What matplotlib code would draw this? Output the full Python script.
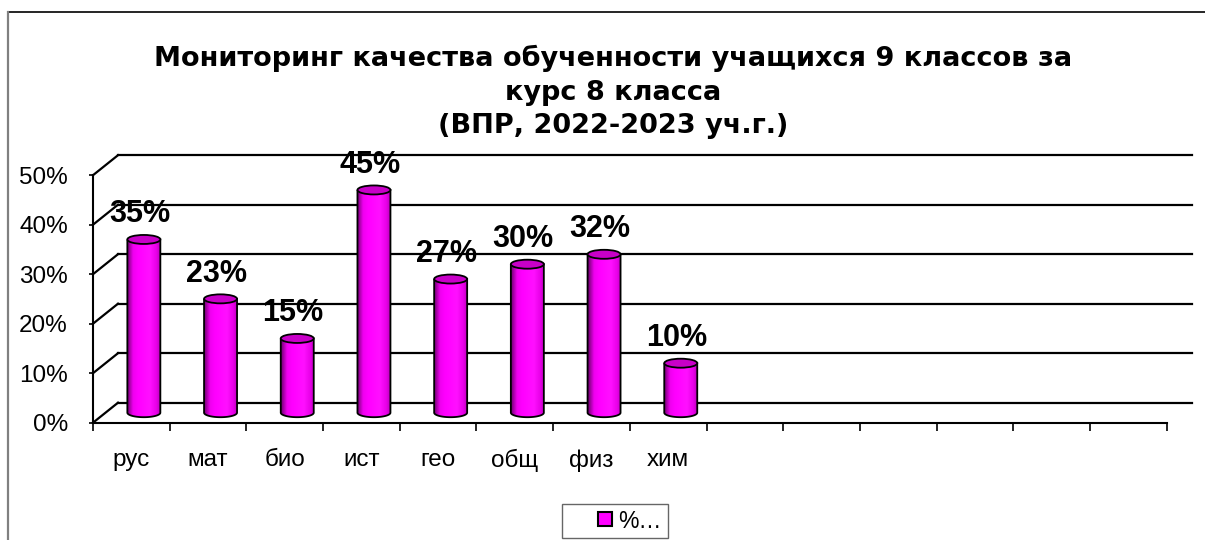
import numpy as np
import matplotlib
matplotlib.use("Agg")
import matplotlib.pyplot as plt
from matplotlib.path import Path
from matplotlib.patches import PathPatch, Ellipse, Rectangle, Patch
from matplotlib.colors import LinearSegmentedColormap
from matplotlib.legend_handler import HandlerPatch
from matplotlib.lines import Line2D

plt.rcParams['font.family'] = ['Liberation Sans', 'DejaVu Sans']

# data
subjects = ['рус', 'мат', 'био', 'ист', 'гео', 'общ', 'физ', 'хим']
values = [35, 23, 15, 45, 27, 30, 32, 10]
n_slots = 14  # empty category slots on the x axis
y_ticks = [0, 10, 20, 30, 40, 50]
title = ('Мониторинг качества обученности учащихся 9 классов за\n'
         'курс 8 класса\n(ВПР, 2022-2023 уч.г.)')
legend_label = '%…'

W, H = 1205, 540
DPI = 100

# pixel geometry of the plot area
px_x0 = 93        # front y axis
px_slot = 76.7    # width of one category
px_y0 = 422.7     # 0% on the front plane
px_pct = 4.95     # pixels per 1%
depth_dx, depth_dy = 25, 20   # 3d depth offset in pixels

ax_left, ax_right, ax_top, ax_bottom = px_x0, 1200, 140, 440

fig = plt.figure(figsize=(W / DPI, H / DPI), dpi=DPI)
ax = fig.add_axes([ax_left / W, 1 - ax_bottom / H,
                   (ax_right - ax_left) / W, (ax_bottom - ax_top) / H])
ax.patch.set_visible(False)

DX = depth_dx / px_slot
DY = depth_dy / px_pct

# axes lines
for s in ['top', 'right']:
    ax.spines[s].set_visible(False)
ax.spines['left'].set_bounds(0, 50)
ax.spines['bottom'].set_position(('data', 0))
ax.spines['bottom'].set_bounds(0, n_slots)
for s in ['left', 'bottom']:
    ax.spines[s].set_linewidth(1.5)

ax.set_yticks(y_ticks)
ax.set_yticklabels([f'{t}%' for t in y_ticks])
ax.tick_params(axis='y', length=3, width=1.2, pad=15, labelsize=17.5)
ax.set_xticks(range(n_slots + 1))
ax.set_xticklabels([])
ax.tick_params(axis='x', which='major', length=6, width=1.2, direction='out')
ax.set_xticks([i + 0.5 for i in range(len(subjects))], minor=True)
ax.set_xticklabels(subjects, minor=True)
ax.tick_params(axis='x', which='minor', length=0, pad=19, labelsize=17.5)

# back wall gridlines and left wall diagonals
for t in y_ticks:
    ax.plot([DX, n_slots + DX], [t + DY, t + DY], color='black', lw=1.6,
            clip_on=False, zorder=1)
    ax.plot([0, DX], [t, t + DY], color='black', lw=1.6, clip_on=False,
            zorder=1)

# cylinders
cmap = LinearSegmentedColormap.from_list(
    'cyl', [(0, '#700070'), (0.18, '#f000f0'), (0.35, '#ff00ff'),
            (0.7, '#ff10ff'), (0.9, '#e800e8'), (1, '#c000c0')])
grad = np.linspace(0, 1, 64).reshape(1, -1)
cyl_w = 33 / px_slot
ell_h = 9 / px_pct
base = DY / 2

for i, v in enumerate(values):
    cx = i + 0.5 + DX / 2
    top = v + DY / 2
    t = np.linspace(np.pi, 2 * np.pi, 40)
    bottom_x = cx + cyl_w / 2 * np.cos(t)
    bottom_y = base + ell_h / 2 * np.sin(t)
    xs = np.concatenate([[cx - cyl_w / 2], bottom_x, [cx + cyl_w / 2, cx - cyl_w / 2]])
    ys = np.concatenate([[top], bottom_y, [top, top]])
    path = Path(np.column_stack([xs, ys]))
    body = PathPatch(path, facecolor='none', edgecolor='black', lw=1.3, zorder=4)
    ax.add_patch(body)
    im = ax.imshow(grad, cmap=cmap, aspect='auto', zorder=3,
                   extent=[cx - cyl_w / 2, cx + cyl_w / 2, base - ell_h, top],
                   interpolation='bilinear')
    im.set_clip_path(body)
    ax.add_patch(Ellipse((cx, top), cyl_w, ell_h, facecolor='#c800c8',
                         edgecolor='black', lw=1.3, zorder=5))
    ax.annotate(f'{v}%', (cx, top), xytext=(-3, 18), textcoords='offset points',
                ha='center', va='center', fontsize=22, fontweight='bold', zorder=6)

# limits after imshow
ax.set_xlim(0, (ax_right - px_x0) / px_slot)
ax.set_ylim((px_y0 - ax_bottom) / px_pct, (px_y0 - ax_top) / px_pct)

# title (wide face to match the stretched title of the original)
fig.text(613 / W, 1 - 92 / H, title, ha='center', va='center',
         multialignment='center', fontsize=19.5, fontweight='bold',
         family=['DejaVu Sans'], linespacing=1.38)


# legend with the square at the right end of the handle box
def square_right(legend, orig_handle, xdescent, ydescent, width, height, fontsize):
    side = height * 1.0
    return Rectangle((width - side - xdescent, -ydescent + (height - side) / 2),
                     side, side)


leg = fig.legend([Patch(facecolor='#ff00ff', edgecolor='black', lw=1.5)],
                 [legend_label], loc='center',
                 bbox_to_anchor=(615 / W, 1 - 521 / H), fontsize=16.5,
                 handlelength=1.9, handleheight=0.55, handletextpad=0.3,
                 borderpad=0.25, borderaxespad=0, fancybox=False,
                 handler_map={Patch: HandlerPatch(patch_func=square_right)})
leg.get_frame().set_edgecolor('#404040')
leg.get_frame().set_linewidth(1.0)

# chart frame
fig.add_artist(Line2D([8 / W, 1], [1 - 12 / H, 1 - 12 / H], color='black', lw=1.2))
fig.add_artist(Line2D([8 / W, 8 / W], [0, 1 - 12 / H], color='#808080', lw=1.6))

fig.savefig('out.png', dpi=DPI)
